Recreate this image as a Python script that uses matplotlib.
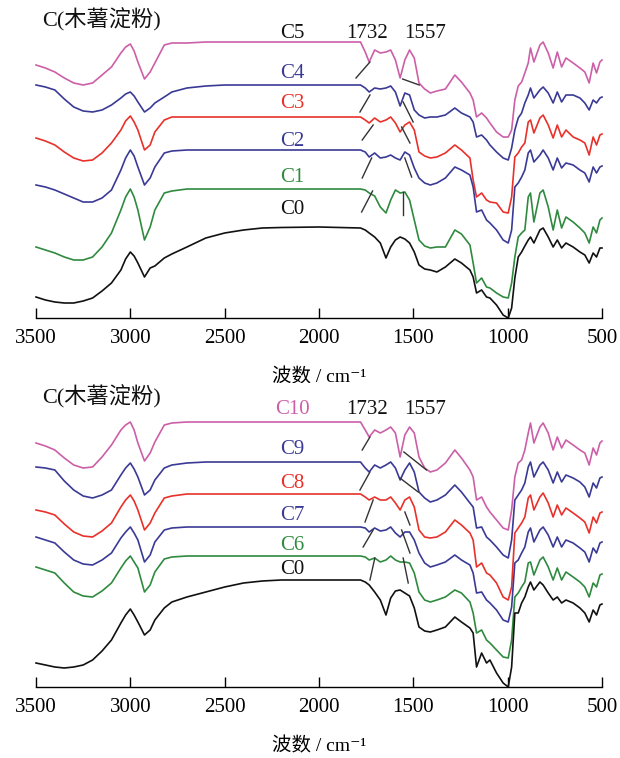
import matplotlib
matplotlib.use('Agg')
import matplotlib.pyplot as plt

plt.rcParams['font.family'] = ['Liberation Serif', 'Noto Sans CJK SC', 'DejaVu Serif']

# shared wavenumber grid (cm-1)
WN = [3500, 3450, 3400, 3350, 3300, 3250, 3200, 3150, 3100, 3050, 3025, 3000, 2980, 2960, 2925,
      2895, 2870, 2820, 2780, 2700, 2600, 2500, 2400, 2300, 2200, 2000,
      1780, 1755, 1734, 1705, 1675, 1645, 1620, 1595, 1570, 1545,
      1520, 1495, 1470, 1440, 1410, 1375, 1330, 1280, 1245,
      1200, 1183, 1165, 1138, 1112, 1094, 1059, 1024, 997, 979,
      962, 944, 926, 909, 891, 879, 861, 829, 812, 785,
      759, 737, 714, 691, 653, 617, 591, 568, 547, 529, 511, 500]

# ---- top panel (offset transmittance, a.u.) ----
C5 = [253, 250, 246, 240, 235, 233, 235, 243, 251, 265, 271, 274, 267, 256, 239,
      246, 255, 273, 275, 275, 276, 276, 276, 276, 276, 276,
      276, 266, 256, 268, 265, 266, 268, 258, 240, 258,
      268, 260, 235, 229, 225, 227, 229, 243, 236,
      225, 218, 201, 205, 200, 195, 186, 181, 181, 188,
      218, 232, 236, 245, 255, 270, 256, 273, 276, 265,
      250, 266, 251, 260, 255, 250, 246, 235, 255, 245, 256, 258]
C4 = [233, 231, 228, 219, 211, 207, 206, 208, 213, 220, 224, 226, 222, 216, 206,
      210, 215, 221, 226, 230, 232, 233, 233, 233, 233, 233,
      233, 230, 226, 230, 229, 230, 232, 226, 212, 225,
      223, 208, 203, 200, 201, 201, 203, 210, 205,
      201, 196, 181, 183, 178, 173, 166, 160, 158, 170,
      188, 200, 205, 215, 223, 230, 220, 228, 231, 225,
      215, 226, 216, 223, 223, 220, 215, 208, 218, 215, 220, 221]
C3 = [180, 177, 173, 166, 160, 157, 158, 165, 175, 188, 197, 202, 196, 188, 168,
      173, 186, 198, 201, 201, 201, 201, 201, 201, 201, 201,
      201, 198, 195, 200, 196, 198, 201, 195, 186, 193,
      196, 188, 166, 162, 160, 161, 165, 173, 168,
      160, 138, 121, 125, 118, 116, 115, 106, 105, 121,
      161, 165, 171, 175, 196, 198, 185, 200, 203, 193,
      180, 193, 181, 188, 181, 178, 175, 163, 181, 173, 183, 184]
C2 = [133, 131, 128, 124, 120, 116, 116, 120, 128, 148, 160, 168, 162, 151, 133,
      140, 151, 165, 167, 168, 168, 168, 168, 168, 168, 168,
      168, 166, 161, 165, 160, 161, 163, 160, 158, 166,
      163, 150, 140, 135, 133, 135, 140, 151, 148,
      143, 131, 106, 108, 98, 95, 88, 78, 75, 88,
      131, 135, 141, 148, 165, 168, 156, 163, 168, 160,
      148, 160, 150, 155, 153, 148, 145, 136, 151, 145, 151, 152]
C1 = [71, 68, 65, 61, 58, 58, 61, 71, 85, 108, 121, 129, 121, 108, 78,
      91, 108, 125, 127, 129, 129, 129, 129, 129, 129, 129,
      129, 128, 125, 122, 111, 105, 118, 128, 125, 126,
      118, 98, 78, 72, 70, 71, 71, 88, 84,
      73, 55, 35, 40, 31, 30, 25, 21, 20, 35,
      61, 81, 85, 88, 121, 125, 96, 125, 128, 111,
      88, 108, 90, 101, 96, 90, 85, 75, 91, 85, 98, 100]
C0_TOP = [21, 18, 16, 15, 15, 17, 20, 27, 35, 48, 59, 66, 62, 55, 41,
          50, 52, 60, 64, 71, 80, 85, 88, 90, 90.5, 91,
          90, 88, 85, 81, 75, 60, 71, 78, 81, 79,
          75, 66, 53, 49, 48, 46, 51, 59, 55,
          48, 41, 25, 28, 21, 20, 13, 3, 0, 10,
          40, 61, 66, 72, 78, 81, 75, 88, 90, 81,
          71, 78, 70, 75, 71, 66, 63, 55, 65, 61, 70, 70]

# ---- bottom panel ----
C10 = [244, 241, 237, 229, 222, 219, 220, 230, 242, 257, 262, 265, 257, 244, 226,
       234, 245, 262, 264, 265, 265, 265, 265, 265, 265, 265,
       265, 257, 250, 257, 254, 257, 260, 254, 230, 252,
       260, 254, 230, 219, 215, 217, 224, 237, 229,
       217, 210, 187, 190, 180, 175, 167, 159, 157, 177,
       210, 224, 227, 237, 254, 264, 244, 260, 264, 254,
       237, 250, 239, 247, 242, 237, 234, 222, 239, 232, 244, 246]
C9 = [220, 219, 217, 206, 197, 191, 189, 192, 197, 212, 219, 224, 218, 210, 192,
      197, 207, 219, 222, 224, 225, 225, 225, 225, 225, 225,
      225, 219, 215, 222, 219, 222, 225, 219, 207, 217,
      224, 215, 195, 189, 185, 187, 192, 202, 195,
      184, 180, 159, 160, 150, 147, 140, 132, 129, 147,
      187, 192, 197, 204, 220, 225, 210, 222, 225, 217,
      204, 215, 205, 212, 209, 205, 200, 190, 204, 199, 209, 210]
C8 = [177, 175, 172, 163, 155, 151, 150, 156, 164, 180, 187, 192, 186, 177, 157,
      164, 174, 189, 191, 193, 193, 193, 193, 193, 193, 193,
      193, 190, 187, 190, 187, 187, 190, 184, 177, 187,
      190, 180, 157, 150, 149, 150, 155, 167, 162,
      154, 147, 120, 124, 114, 112, 104, 90, 87, 100,
      154, 159, 164, 170, 189, 192, 177, 190, 194, 184,
      170, 182, 172, 179, 174, 169, 165, 154, 170, 164, 174, 175]
C7 = [150, 147, 144, 135, 127, 123, 122, 127, 134, 149, 155, 160, 154, 147, 125,
      132, 145, 157, 159, 160, 160, 160, 160, 160, 160, 160,
      160, 159, 155, 159, 156, 157, 160, 154, 150, 155,
      155, 147, 134, 124, 120, 122, 125, 132, 127,
      122, 114, 94, 95, 87, 84, 77, 67, 65, 80,
      124, 127, 134, 140, 155, 159, 145, 157, 160, 152,
      140, 150, 140, 147, 144, 139, 135, 125, 139, 134, 144, 145]
C6 = [120, 117, 114, 104, 95, 91, 90, 96, 104, 119, 126, 131, 125, 119, 95,
      102, 115, 128, 130, 131, 131, 131, 131, 131, 131, 131,
      131, 130, 127, 129, 125, 127, 131, 127, 125, 125,
      124, 114, 95, 87, 85, 87, 90, 97, 94,
      85, 74, 54, 57, 47, 44, 37, 30, 29, 47,
      90, 94, 100, 105, 124, 125, 112, 127, 130, 120,
      107, 119, 107, 115, 110, 105, 100, 90, 104, 100, 112, 113]
C0_BOT = [24, 22, 20, 19, 20, 22, 27, 36, 47, 64, 72, 78, 72, 65, 52,
          57, 67, 79, 85, 90, 95, 100, 104, 106, 107, 107,
          107, 105, 102, 95, 87, 72, 89, 96, 97, 94,
          91, 79, 60, 56, 55, 57, 60, 70, 65,
          59, 54, 20, 34, 24, 27, 14, 4, 0, 20,
          74, 74, 84, 90, 100, 105, 97, 105, 102, 94,
          87, 90, 84, 87, 84, 79, 74, 65, 77, 72, 82, 83]

TICKS = [3500, 3000, 2500, 2000, 1500, 1000, 500]
TOP_NAMES = ['C5', 'C4', 'C3', 'C2', 'C1', 'C0']
BOT_NAMES = ['C10', 'C9', 'C8', 'C7', 'C6', 'C0']

# annotation leader lines: x0, y0, x1, y1
ANN_TOP = [
    (1804, 240, 1730, 256), (1557, 239, 1469, 233),
    (1783, 206, 1730, 223), (1554, 216, 1501, 196),
    (1771, 178, 1713, 193), (1562, 191, 1518, 175),
    (1771, 140, 1721, 160), (1545, 160, 1509, 141),
    (1774, 106, 1716, 127), (1554, 126, 1554, 103),
]
ANN_BOT = [
    (1771, 237, 1730, 250), (1550, 235, 1430, 217),
    (1783, 197, 1730, 215), (1571, 209, 1474, 195),
    (1756, 165, 1713, 187), (1545, 175, 1518, 162),
    (1766, 140, 1713, 157), (1562, 157, 1518, 134),
    (1730, 107, 1704, 129), (1554, 129, 1527, 104),
]

PINK = '#cc5fa8'
NAVY = '#3a3a96'
RED = '#e8312a'
GREEN = '#2f8a3f'
BLACK = '#111111'

fig = plt.figure(figsize=(6.2, 7.58), dpi=100)
ax1 = fig.add_axes([36 / 620, 1 - 318 / 758, (602 - 36) / 620, 308 / 758])
ax2 = fig.add_axes([36 / 620, 1 - 687 / 758, (602 - 36) / 620, 304 / 758])


def style(ax, ytop):
    ax.set_xlim(3500, 500)
    ax.set_ylim(0, ytop)
    for s in ['left', 'right', 'top']:
        ax.spines[s].set_visible(False)
    ax.spines['bottom'].set_linewidth(1.0)
    ax.set_yticks([])
    ax.set_xticks(TICKS)
    ax.set_xticklabels([str(t) for t in TICKS])
    ax.tick_params(axis='x', direction='in', length=7, width=1, labelsize=15, pad=8)
    ax.set_xlabel('波数 / cm⁻¹', fontsize=14, labelpad=14)


top_series = [(C5, PINK), (C4, NAVY), (C3, RED), (C2, NAVY), (C1, GREEN), (C0_TOP, BLACK)]
bot_series = [(C10, PINK), (C9, NAVY), (C8, RED), (C7, NAVY), (C6, GREEN), (C0_BOT, BLACK)]

for ys, c in top_series:
    ax1.plot(WN[:len(ys)], ys, color=c, lw=1.2, clip_on=False)
for ys, c in bot_series:
    ax2.plot(WN[:len(ys)], ys, color=c, lw=1.2, clip_on=False)

for a in ANN_TOP:
    ax1.plot([a[0], a[2]], [a[1], a[3]], color='#333333', lw=1.0)
for a in ANN_BOT:
    ax2.plot([a[0], a[2]], [a[1], a[3]], color='#333333', lw=1.0)

style(ax1, 308)
style(ax2, 304)

top_label_y = [285, 245, 214, 176, 140, 108]
top_label_c = [BLACK, NAVY, RED, NAVY, GREEN, BLACK]
for n, yy, c in zip(TOP_NAMES, top_label_y, top_label_c):
    ax1.text(2143, yy, n, ha='center', va='center', fontsize=15, color=c)
ax1.text(1746, 285, '1732', ha='center', va='center', fontsize=15, color=BLACK)
ax1.text(1439, 285, '1557', ha='center', va='center', fontsize=15, color=BLACK)
ax1.text(3468, 298, 'C(木薯淀粉)', ha='left', va='center', fontsize=16, color=BLACK)

bot_label_y = [277, 237, 204, 172, 142, 118]
bot_label_c = [PINK, NAVY, RED, NAVY, GREEN, BLACK]
for n, yy, c in zip(BOT_NAMES, bot_label_y, bot_label_c):
    ax2.text(2143, yy, n, ha='center', va='center', fontsize=15, color=c)
ax2.text(1746, 277, '1732', ha='center', va='center', fontsize=15, color=BLACK)
ax2.text(1439, 277, '1557', ha='center', va='center', fontsize=15, color=BLACK)
ax2.text(3468, 290, 'C(木薯淀粉)', ha='left', va='center', fontsize=16, color=BLACK)

fig.savefig('out.png', dpi=100)
